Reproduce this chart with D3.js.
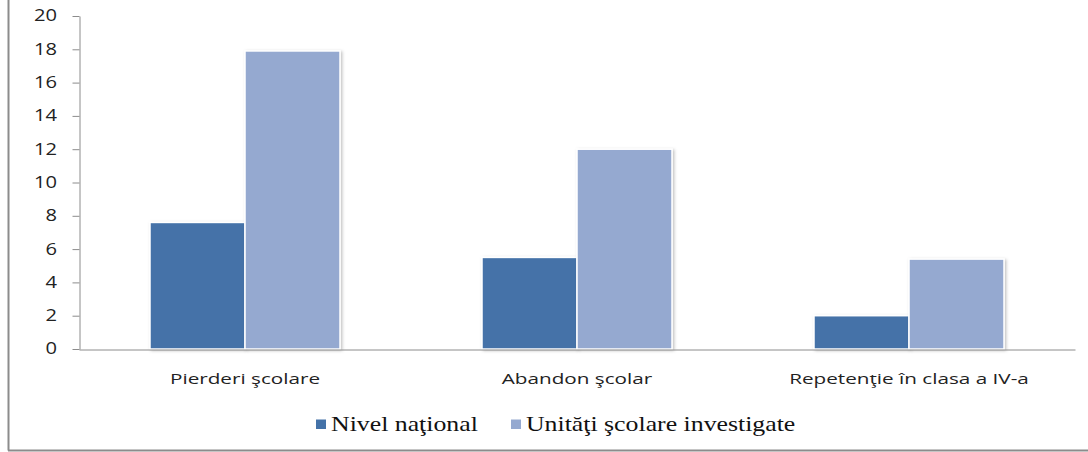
<!DOCTYPE html>
<html>
<head>
<meta charset="utf-8">
<script src="https://cdn.jsdelivr.net/npm/d3@7"></script>
<style>
  html, body { margin: 0; padding: 0; background: #fff; }
  svg { display: block; }
  .legtext { font-family: "Liberation Serif", "DejaVu Serif", serif; }
</style>
</head>
<body>
<svg id="chart" width="1088" height="452"></svg>
<script>
const categories = ["Pierderi şcolare", "Abandon şcolar", "Repetenţie în clasa a IV-a"];
const seriesNames = ["Nivel naţional", "Unităţi şcolare investigate"];
const nivelNational = [7.6, 5.5, 2.0];
const unitatiInvestigate = [17.9, 12.0, 5.4];
const yTicks = [0, 2, 4, 6, 8, 10, 12, 14, 16, 18, 20];
const colors = ["#4472A8", "#95A9D0"];

const svg = d3.select("#chart");
const sansFont = "'Open Sans', 'DejaVu Sans', sans-serif";

// shadow filter
const defs = svg.append("defs");
const f = defs.append("filter").attr("id", "shadow").attr("x", "-10%").attr("y", "-10%").attr("width", "125%").attr("height", "125%");
f.append("feDropShadow").attr("dx", 1.5).attr("dy", 1).attr("stdDeviation", 1.5).attr("flood-color", "#000").attr("flood-opacity", 0.25);

// frame
svg.append("line").attr("x1", 8.5).attr("x2", 8.5).attr("y1", 0).attr("y2", 450.5).attr("stroke", "#8c8c8c").attr("stroke-width", 2);
svg.append("line").attr("x1", 8).attr("x2", 1088).attr("y1", 450.5).attr("y2", 450.5).attr("stroke", "#8c8c8c").attr("stroke-width", 2);

const plotLeft = 79, plotRight = 1075, plotTop = 16, plotBottom = 349;

const x = d3.scaleBand().domain(categories).range([plotLeft, plotRight]).padding(0);
const y = d3.scaleLinear().domain([0, 20]).range([plotBottom, plotTop]);
const barW = 95;
const xs = d3.scaleBand().domain(seriesNames).range([0, barW * 2]).padding(0);

// y axis
const yAxis = d3.axisLeft(y).tickValues(yTicks).tickSize(7).tickPadding(14).tickSizeOuter(0);
const gy = svg.append("g").attr("transform", `translate(${plotLeft + 0.5},0)`).call(yAxis);
gy.select(".domain").attr("stroke", "#8c8c8c");
gy.selectAll(".tick line").attr("stroke", "#8c8c8c");
const tickScale = 1.3;
gy.selectAll(".tick text")
  .attr("font-family", sansFont).attr("font-size", 15.5).attr("fill", "#222")
  .attr("x", -22.5 / tickScale)
  .attr("transform", `scale(${tickScale},1)`);

// bars
const series = [nivelNational, unitatiInvestigate];
categories.forEach((c, i) => {
  const x0 = x(c) + (x.bandwidth() - barW * 2) / 2;
  series.forEach((vals, s) => {
    svg.append("rect")
      .attr("x", x0 + xs(seriesNames[s]))
      .attr("y", y(vals[i]))
      .attr("width", xs.bandwidth())
      .attr("height", y(0) - y(vals[i]))
      .attr("fill", colors[s])
      .attr("stroke", "#fff")
      .attr("stroke-width", 1.5)
      .attr("filter", "url(#shadow)");
  });
});

// x axis
const xAxis = d3.axisBottom(x).tickSize(0).tickPadding(24);
const gx = svg.append("g").attr("transform", `translate(0,${plotBottom + 0.5})`).call(xAxis);
gx.select(".domain").attr("stroke", "#8c8c8c");
gx.selectAll(".tick text")
  .attr("font-family", sansFont).attr("font-size", 15).attr("fill", "#222")
  .attr("transform", "scale(1.38,1)");

// legend
const legendX = [316, 511];
const legScale = 1.29;
const lg = svg.append("g");
seriesNames.forEach((n, i) => {
  lg.append("rect").attr("x", legendX[i]).attr("y", 419.5).attr("width", 10).attr("height", 9.5).attr("fill", colors[i]);
  lg.append("text").attr("class", "legtext").attr("x", (legendX[i] + 15) / legScale).attr("y", 431.5)
    .attr("transform", `scale(${legScale},1)`)
    .attr("font-size", 20).attr("fill", "#111").text(n);
});
</script>
</body>
</html>
